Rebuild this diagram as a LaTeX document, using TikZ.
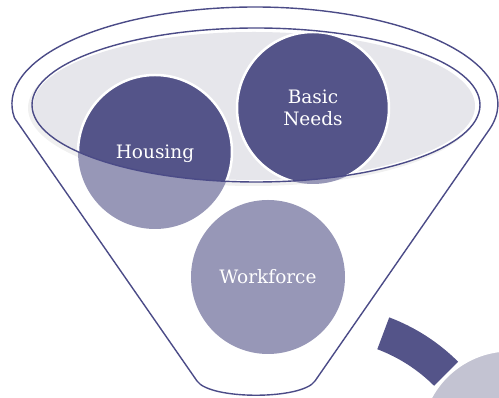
\documentclass[tikz,border=0pt]{standalone}
\usepackage{fontspec}
\setmainfont{DejaVu Serif}
\definecolor{dark}{HTML}{545489}
\definecolor{light}{HTML}{9797B7}
\definecolor{outl}{HTML}{4B4B87}
\definecolor{ellfill}{HTML}{E6E6EB}
\definecolor{graycirc}{HTML}{C3C3D2}
\begin{document}
\begin{tikzpicture}[x=1pt,y=1pt,
  lbl/.style={text=white,font=\fontsize{18.5}{22}\selectfont,align=center},
  ring/.style={draw=white,line width=2.5pt}]
\useasboundingbox (0,0) rectangle (499,398);
% funnel outline
\draw[outl,line width=1.4pt,line join=round]
  (14.5,280) arc[start angle=188.3,end angle=-14.7,x radius=243,y radius=97]
  -- (315,17) .. controls (302,-2) and (210,-2) .. (197,17) -- cycle;
% shadow and inner ellipse
\fill[gray!12] (253,290) ellipse[x radius=225,y radius=78];
\fill[white] (256,293) ellipse[x radius=224,y radius=77];
\fill[ellfill] (254,292) ellipse[x radius=221,y radius=74];
% circles
\coordinate (hc) at (155,246);
\coordinate (bc) at (313,290);
\coordinate (wc) at (268,121);
\fill[light] (hc) circle[radius=77];
\fill[light] (bc) circle[radius=76];
\begin{scope}
  \clip (256,293) ellipse[x radius=224,y radius=77];
  \fill[dark] (hc) circle[radius=77];
  \fill[dark] (bc) circle[radius=76];
  \draw[ring] (hc) circle[radius=77];
  \draw[ring] (bc) circle[radius=76];
\end{scope}
\draw[outl,line width=1.4pt] (256,293) ellipse[x radius=224,y radius=77];
\fill[light] (wc) circle[radius=77];
\node[lbl] (housing) at ([yshift=-2pt]hc) {Housing};
\node[lbl] (needs) at (bc) {Basic\\Needs};
\node[lbl] (workforce) at (wc) {Workforce};
% output arc and circle
\coordinate (ac) at (321,-101);
\fill[dark] ([shift={(69.4:160)}]ac) arc[start angle=69.4,end angle=45,radius=160]
  -- ([shift={(45:194)}]ac) arc[start angle=45,end angle=69.4,radius=194] -- cycle;
\fill[graycirc,draw=white,line width=3pt] (510,-42) circle[radius=90];
\end{tikzpicture}
\end{document}
